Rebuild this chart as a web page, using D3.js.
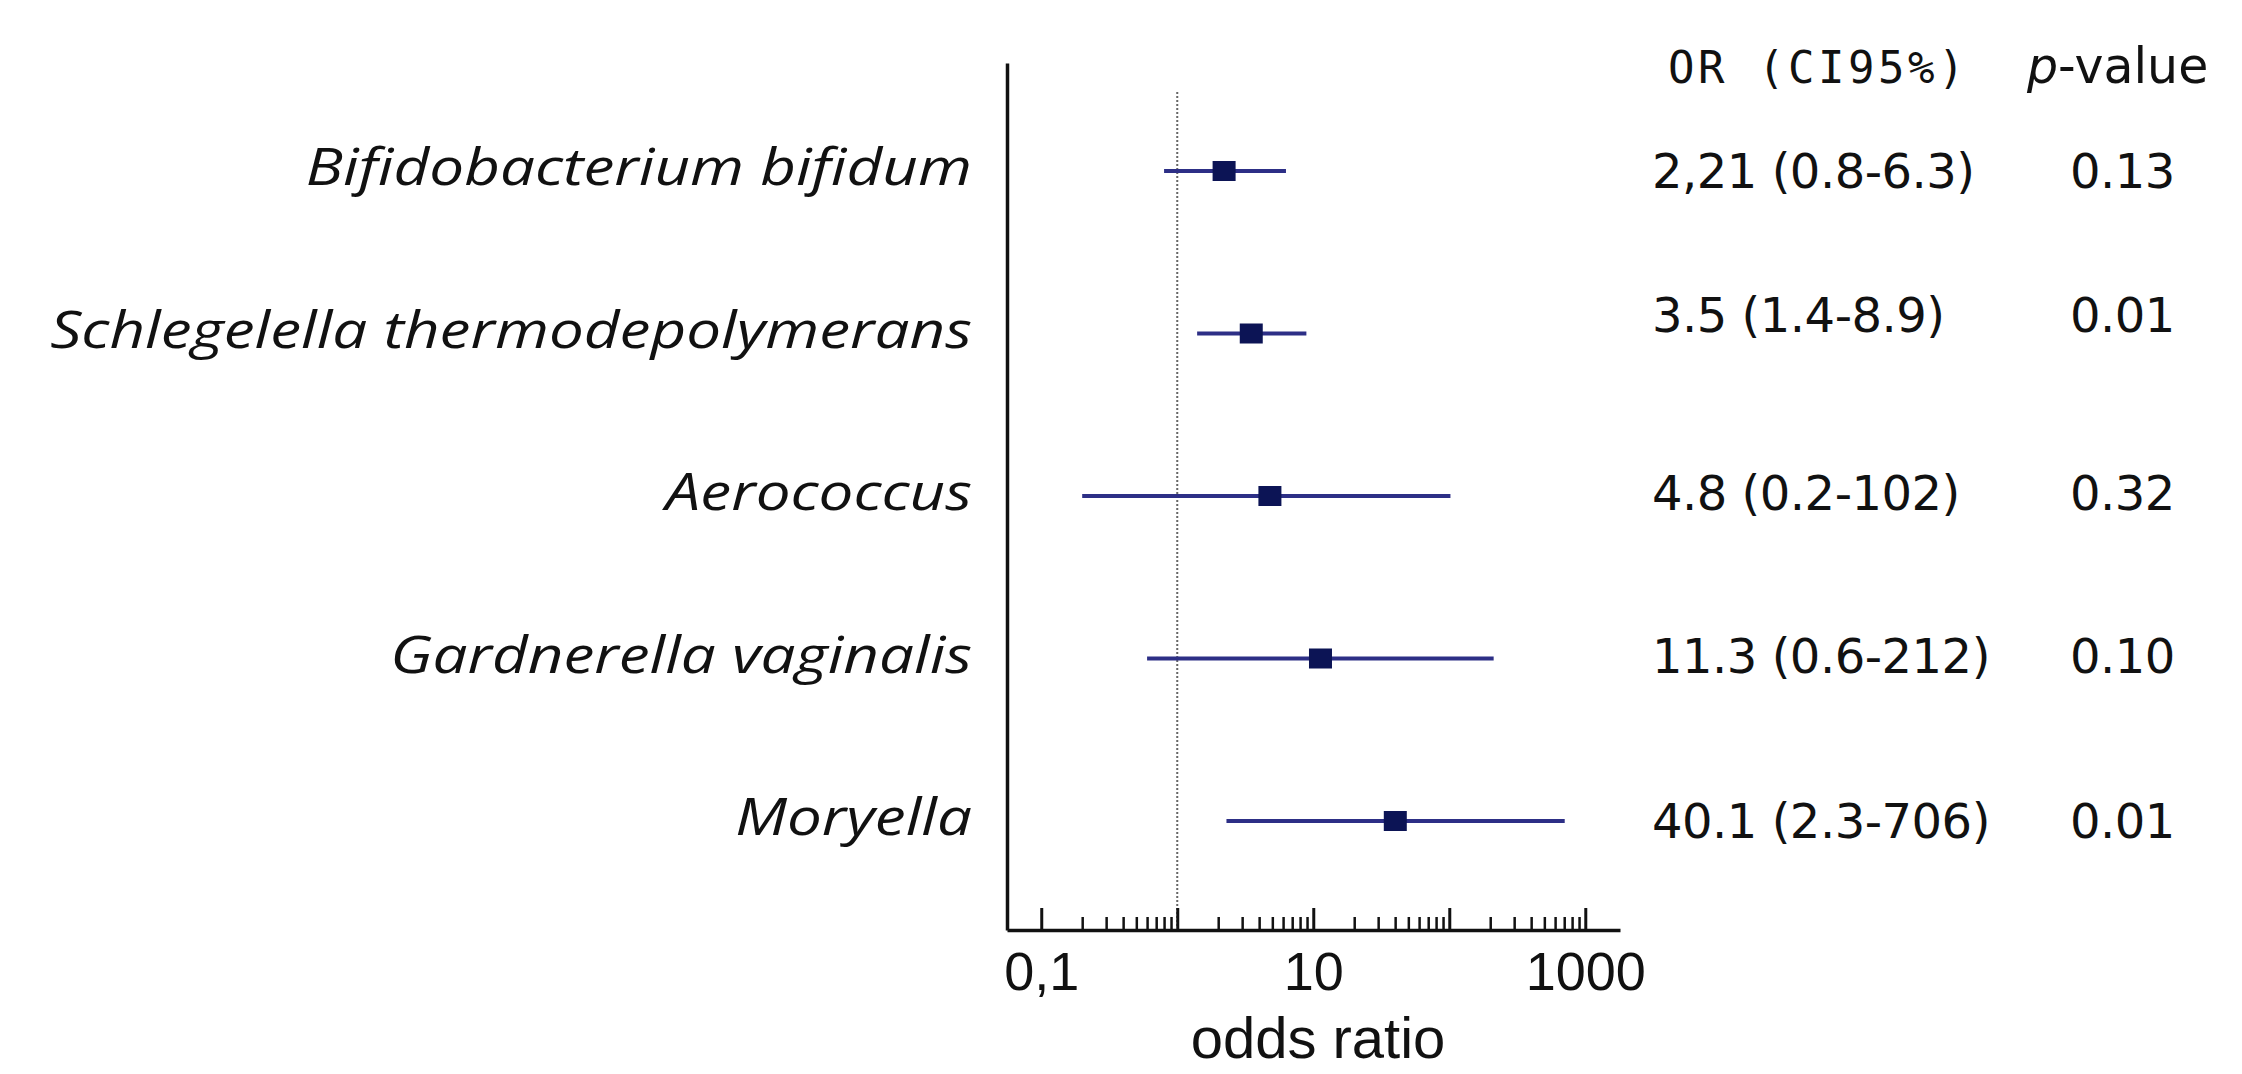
<!DOCTYPE html>
<html><head><meta charset="utf-8">
<script src="https://cdn.jsdelivr.net/npm/d3@7"></script>
<style>html,body{margin:0;padding:0;background:#fff;} svg{display:block;}</style>
</head><body>
<svg id="chart" width="2242" height="1074"></svg>
<script>
// ---------- DATA ----------
const categories = ["Bifidobacterium bifidum", "Schlegelella thermodepolymerans", "Aerococcus", "Gardnerella vaginalis", "Moryella"];
const orValues = [2.21, 3.5, 4.8, 11.3, 40.1];
const ciLow = [0.8, 1.4, 0.2, 0.6, 2.3];
const ciHigh = [6.3, 8.9, 102, 212, 706];
const orLabels = ["2,21 (0.8-6.3)", "3.5 (1.4-8.9)", "4.8 (0.2-102)", "11.3 (0.6-212)", "40.1 (2.3-706)"];
const pValues = ["0.13", "0.01", "0.32", "0.10", "0.01"];
const majorTicks = [0.1, 1, 10, 100, 1000];
const majorTickLabels = ["0,1", "", "10", "", "1000"];
const minorTicks = [0.2, 0.3, 0.4, 0.5, 0.6, 0.7, 0.8, 0.9,
                    2, 3, 4, 5, 6, 7, 8, 9,
                    20, 30, 40, 50, 60, 70, 80, 90,
                    200, 300, 400, 500, 600, 700, 800, 900];
const refValue = 1;
const xExtent = [0.056, 1800];
const headerOR = "OR (CI95%)";
const xTitle = "odds ratio";

// ---------- LAYOUT ----------
const L = {
  axisX: 1007, axisRight: 1620, axisBottom: 930, axisTop: 63,
  rowTop: 171, rowBottom: 821, refTop: 92,
  labelRight: 972, labelWidth: 922,
  orX: 1652, pX: 2070, headerY: 83,
  valueShift: [0, -19, -3, -3, 0]
};

const svg = d3.select("#chart");
const x = d3.scaleLog().domain(xExtent).range([L.axisX, L.axisRight]);
const y = d3.scalePoint().domain(categories).range([L.rowTop, L.rowBottom]);

// reference line at OR = 1
svg.append("line")
  .attr("x1", x(refValue)).attr("x2", x(refValue))
  .attr("y1", L.refTop).attr("y2", L.axisBottom - 2)
  .attr("stroke", "#666").attr("stroke-width", 2)
  .attr("stroke-dasharray", "2,2");

// minor ticks
const gMinor = svg.append("g").attr("transform", `translate(0,${L.axisBottom})`)
  .call(d3.axisBottom(x).tickValues(minorTicks).tickSizeInner(-13).tickSizeOuter(0).tickFormat(""));
gMinor.select(".domain").remove();
gMinor.selectAll(".tick line").attr("stroke", "#111").attr("stroke-width", 2.5);

// major ticks + domain
const gMajor = svg.append("g").attr("transform", `translate(0,${L.axisBottom})`)
  .call(d3.axisBottom(x).tickValues(majorTicks)
    .tickFormat((d, i) => majorTickLabels[i])
    .tickSizeInner(-22).tickSizeOuter(0).tickPadding(22));
gMajor.select(".domain").attr("stroke", "#111").attr("stroke-width", 3.5);
gMajor.selectAll(".tick line").attr("stroke", "#111").attr("stroke-width", 3);
gMajor.selectAll(".tick text")
  .attr("fill", "#111")
  .style("font-family", "'Liberation Sans', Arial, sans-serif")
  .style("font-size", "54px");

// y axis
const yLine = d3.scaleLinear().domain([0, 1]).range([L.axisBottom, L.axisTop]);
const gY = svg.append("g").attr("transform", `translate(${L.axisX},0)`)
  .call(d3.axisLeft(yLine).tickValues([]).tickSizeOuter(0));
gY.select(".domain").attr("stroke", "#111").attr("stroke-width", 3.5);

// x title
svg.append("text")
  .attr("x", 1318).attr("y", 1058)
  .attr("text-anchor", "middle")
  .attr("fill", "#111")
  .style("font-family", "'Liberation Sans', Arial, sans-serif")
  .style("font-size", "58px")
  .text(xTitle);

// CI lines
const rows = categories.map((c, i) => ({ c, i, or: orValues[i], lo: ciLow[i], hi: ciHigh[i] }));
svg.append("g").selectAll("line").data(rows).join("line")
  .attr("x1", d => x(d.lo)).attr("x2", d => x(d.hi))
  .attr("y1", d => y(d.c)).attr("y2", d => y(d.c))
  .attr("stroke", "#2d2f86").attr("stroke-width", 4);

// markers
const mw = 23, mh = 20;
svg.append("g").selectAll("rect").data(rows).join("rect")
  .attr("x", d => x(d.or) - mw / 2).attr("y", d => y(d.c) - mh / 2)
  .attr("width", mw).attr("height", mh)
  .attr("fill", "#0c1455");

// row labels (italic), fit to block width
const gLab = svg.append("g");
const labs = gLab.selectAll("text").data(rows).join("text")
  .attr("x", 0).attr("y", 0)
  .attr("text-anchor", "end")
  .attr("fill", "#111")
  .style("font-family", "'Open Sans', sans-serif")
  .style("font-style", "italic")
  .style("font-size", "51px")
  .text(d => d.c);
let maxW = 0;
labs.each(function () { maxW = Math.max(maxW, this.getComputedTextLength()); });
const k = L.labelWidth / maxW;
labs.attr("transform", d => `translate(${L.labelRight},${y(d.c) + 14}) scale(${k},1)`);

// headers
svg.append("text")
  .attr("x", 1668).attr("y", L.headerY)
  .attr("fill", "#111")
  .style("font-family", "'DejaVu Sans Mono', monospace")
  .style("font-size", "44px")
  .style("letter-spacing", "3.5px")
  .text(headerOR);
const pv = svg.append("text")
  .attr("x", 2027).attr("y", L.headerY)
  .attr("fill", "#111")
  .style("font-family", "'DejaVu Sans', sans-serif")
  .style("font-size", "49px");
pv.append("tspan").style("font-style", "italic").text("p");
pv.append("tspan").text("-value");

// OR (CI) texts and p values
svg.append("g").selectAll("text").data(rows).join("text")
  .attr("x", L.orX).attr("y", d => y(d.c) + 17 + L.valueShift[d.i])
  .attr("fill", "#111")
  .style("font-family", "'DejaVu Sans', sans-serif")
  .style("font-size", "48px")
  .style("letter-spacing", "-0.5px")
  .text(d => orLabels[d.i]);
svg.append("g").selectAll("text").data(rows).join("text")
  .attr("x", L.pX).attr("y", d => y(d.c) + 17 + L.valueShift[d.i])
  .attr("fill", "#111")
  .style("font-family", "'DejaVu Sans', sans-serif")
  .style("font-size", "48px")
  .style("letter-spacing", "-0.5px")
  .text(d => pValues[d.i]);
</script>
</body></html>
